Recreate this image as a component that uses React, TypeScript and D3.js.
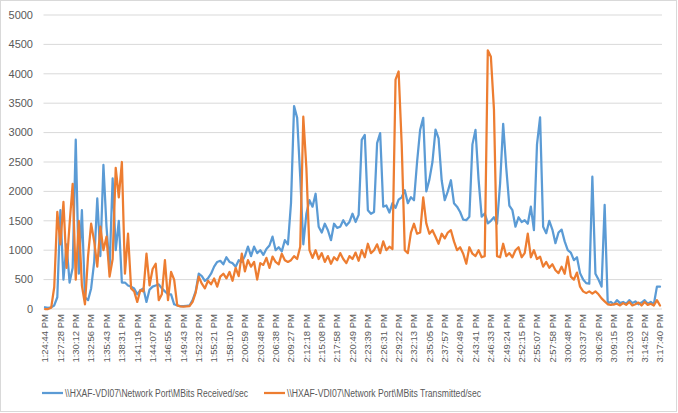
import React from "react";
import * as d3 from "d3";

const timeLabels = [
  "1:24:44 PM","1:27:28 PM","1:30:12 PM","1:32:56 PM","1:35:43 PM","1:38:31 PM","1:41:19 PM","1:44:07 PM",
  "1:46:55 PM","1:49:43 PM","1:52:32 PM","1:55:21 PM","1:58:10 PM","2:00:59 PM","2:03:48 PM","2:06:38 PM",
  "2:09:27 PM","2:12:18 PM","2:15:08 PM","2:17:58 PM","2:20:49 PM","2:23:39 PM","2:26:31 PM","2:29:22 PM",
  "2:32:13 PM","2:35:05 PM","2:37:57 PM","2:40:49 PM","2:43:41 PM","2:46:33 PM","2:49:24 PM","2:52:15 PM",
  "2:55:07 PM","2:57:58 PM","3:00:48 PM","3:03:37 PM","3:06:26 PM","3:09:15 PM","3:12:03 PM","3:14:52 PM",
  "3:17:40 PM",
];
const labelEvery = 5;

const yTicks = [0, 500, 1000, 1500, 2000, 2500, 3000, 3500, 4000, 4500, 5000];

const seriesNames = [
  "\\\\HXAF-VDI07\\Network Port\\MBits Received/sec",
  "\\\\HXAF-VDI07\\Network Port\\MBits Transmitted/sec",
];

const received = [
  30,20,30,60,200,1680,500,1100,450,700,
  2880,600,1680,200,150,350,800,1880,900,2450,
  1400,700,2220,1000,1500,450,450,400,380,350,
  250,320,350,120,330,380,400,420,350,300,
  250,250,80,60,50,50,55,60,150,300,
  600,560,480,520,600,720,800,820,760,880,
  800,780,720,830,800,900,1060,900,1060,950,
  1000,920,1020,1080,1230,1000,1050,980,1170,1100,
  1800,3450,3250,2250,1100,1620,1850,1740,1960,1400,
  1300,1450,1340,1170,1450,1380,1400,1510,1420,1480,
  1620,1480,1600,2875,2960,1680,1620,1650,2820,2990,
  1740,1760,1640,1800,1720,1860,1900,2020,1800,1900,
  1850,2500,3050,3250,2000,2200,2500,3050,2900,2190,
  1850,2000,2190,1800,1740,1650,1520,1510,1570,2800,
  3045,2200,1570,1625,1455,1500,1560,1450,2135,3150,
  2400,1760,1680,1400,1560,1480,1510,1450,1740,1340,
  2800,3260,1400,1290,1500,1350,1120,1300,1350,1150,
  1000,960,830,880,610,500,440,430,2250,600,
  500,380,1770,100,120,80,150,100,120,90,
  150,100,130,80,110,150,90,120,80,380,
  380,
];

const transmitted = [
  0,0,20,370,1650,1100,1820,700,1450,2130,
  500,1500,400,80,900,1450,1150,720,1400,1000,
  1230,550,850,2400,1900,2500,600,1280,350,300,
  120,320,300,940,400,680,770,150,250,830,
  150,630,500,60,45,40,45,50,120,280,
  550,430,350,480,420,520,380,550,600,520,
  630,480,700,560,940,640,830,720,800,500,
  780,750,870,700,890,800,760,940,830,800,
  830,900,850,1060,3270,2400,1000,870,1000,850,
  950,800,900,770,880,830,950,850,780,900,
  850,960,820,1000,880,1110,950,1000,1100,950,
  1150,1000,1060,1020,3900,4040,2800,1000,950,1300,
  1450,1280,1300,1900,1455,1280,1340,1230,1110,1280,
  1200,1300,1340,1150,1000,1050,940,770,1050,940,
  900,1000,880,900,4400,4290,3400,900,880,1110,
  900,950,880,1000,1050,880,950,1280,880,1000,
  850,890,720,800,700,760,660,610,720,600,
  890,550,500,620,380,300,270,300,260,300,
  250,180,130,80,70,80,90,60,100,70,
  120,60,80,110,60,120,70,90,60,150,
  60,
];

const colors = ["#5B9BD5", "#ED7D31"];

const W = 678;
const H = 413;

export default function App() {
  const n = received.length;
  const x = d3.scaleLinear().domain([0, n - 1]).range([45, 660]);
  const y = d3.scaleLinear().domain([0, 5000]).range([309, 15]);
  const line = d3
    .line<number>()
    .x((_, i) => x(i))
    .y((d) => y(d));

  const font = "'Liberation Sans', Arial, sans-serif";

  return (
    <svg
      width={W}
      height={H}
      style={{ position: "absolute", left: 0, top: 0, background: "#fff" }}
    >
      <rect x={0.5} y={0.5} width={W - 2} height={H - 2} fill="#fff" stroke="#d9d9d9" />
      {yTicks.map((t) => (
        <g key={t}>
          <line x1={43.5} x2={662} y1={y(t)} y2={y(t)} stroke="#d9d9d9" strokeWidth={1} />
          <text
            x={33}
            y={y(t)}
            dy="0.35em"
            textAnchor="end"
            fontFamily={font}
            fontSize={11}
            fill="#595959"
          >
            {t}
          </text>
        </g>
      ))}
      {timeLabels.map((lab, k) => {
        const px = x(k * labelEvery);
        return (
          <text
            key={lab}
            transform={`translate(${px + 3.3},${314}) rotate(-90)`}
            textAnchor="end"
            fontFamily={font}
            fontSize={9.5}
            fill="#595959"
          >
            {lab}
          </text>
        );
      })}
      {[received, transmitted].map((s, si) => (
        <path
          key={si}
          d={line(s) || ""}
          fill="none"
          stroke={colors[si]}
          strokeWidth={2.25}
          strokeLinejoin="round"
          strokeLinecap="round"
        />
      ))}
      {seriesNames.map((name, si) => {
        const lx = si === 0 ? 42 : 264;
        return (
          <g key={name}>
            <line x1={lx} x2={lx + 21} y1={393} y2={393} stroke={colors[si]} strokeWidth={2.25} />
            <text
              x={lx + 23}
              y={393}
              dy="0.35em"
              fontFamily={font}
              fontSize={10}
              fill="#595959"
              textLength={si === 0 ? 183 : 194}
              lengthAdjust="spacingAndGlyphs"
            >
              {name}
            </text>
          </g>
        );
      })}
    </svg>
  );
}
